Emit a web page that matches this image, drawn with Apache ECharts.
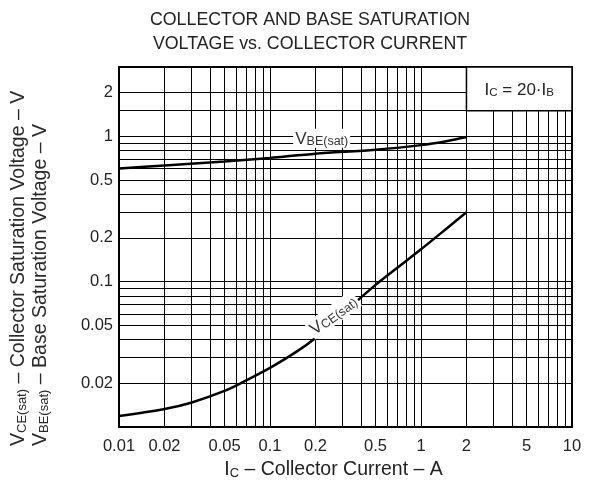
<!DOCTYPE html>
<html>
<head>
<meta charset="utf-8">
<script src="https://cdn.jsdelivr.net/npm/echarts@6/dist/echarts.min.js"></script>
<style>
html,body{margin:0;padding:0;background:#fff;}
#c{width:605px;height:489px;}
</style>
</head>
<body>
<div id="c"></div>
<script>
// ---- data ----
const icBE = [0.01, 0.02, 0.05, 0.1, 0.2, 0.5, 1, 1.5, 2];
const vbeSat = [0.60, 0.63, 0.67, 0.71, 0.76, 0.81, 0.87, 0.93, 0.99];
const icCE = [0.01, 0.02, 0.03, 0.05, 0.07, 0.1, 0.15, 0.2, 0.3, 0.5, 0.7, 1, 1.5, 2];
const vceSat = [0.0119, 0.0133, 0.0147, 0.0177, 0.021, 0.0255, 0.033, 0.041, 0.0596, 0.095, 0.125, 0.167, 0.235, 0.30];
const xTickLabels = [0.01, 0.02, 0.05, 0.1, 0.2, 0.5, 1, 2, 5, 10];
const yTickLabels = [0.02, 0.05, 0.1, 0.2, 0.5, 1, 2];
const xGrid = [0.01,0.02,0.03,0.04,0.05,0.06,0.07,0.08,0.09,0.1,0.2,0.3,0.4,0.5,0.6,0.7,0.8,0.9,1,2,3,4,5,6,7,8,9,10];
const yGrid = [0.02,0.03,0.04,0.05,0.06,0.07,0.08,0.09,0.1,0.2,0.3,0.4,0.5,0.6,0.7,0.8,0.9,1,1.5,2];

const FONT = 'Liberation Sans';
const TXT = '#222';
const fmt = v => String(parseFloat((+v).toPrecision(6)));

const chart = echarts.init(document.getElementById('c'), null, {renderer: 'canvas'});
chart.setOption({
  animation: false,
  backgroundColor: '#fff',
  textStyle: {fontFamily: FONT},
  title: {
    text: 'COLLECTOR AND BASE SATURATION\nVOLTAGE vs. COLLECTOR CURRENT',
    left: 305, top: 3, textAlign: 'center',
    textStyle: {fontFamily: FONT, fontSize: 17.8, fontWeight: 'normal', color: TXT, lineHeight: 24}
  },
  grid: {left: 119, right: 33, top: 67, bottom: 62, show: true, borderColor: '#000', borderWidth: 2, backgroundColor: 'transparent'},
  xAxis: {
    type: 'log', logBase: 10, min: 0.01, max: 10,
    axisLine: {show: false},
    axisTick: {show: false, customValues: xGrid},
    splitLine: {show: true, lineStyle: {color: '#000', width: 1}},
    axisLabel: {customValues: xTickLabels, formatter: fmt, fontSize: 16.5, color: TXT, margin: 11, fontFamily: FONT},
    name: '{b|I}{s|C}{b| – Collector Current – A}',
    nameLocation: 'middle', nameGap: 31,
    nameTextStyle: {padding: [0, 24, 0, 0], rich: {
      b: {fontSize: 19.5, color: TXT, fontFamily: FONT, verticalAlign: 'bottom', lineHeight: 22},
      s: {fontSize: 13, color: TXT, fontFamily: FONT, verticalAlign: 'bottom', lineHeight: 17}
    }}
  },
  yAxis: {
    type: 'log', logBase: 10, min: 0.01, max: 3,
    axisLine: {show: false},
    axisTick: {show: false, customValues: yGrid},
    splitLine: {show: true, lineStyle: {color: '#000', width: 1}},
    axisLabel: {customValues: yTickLabels, formatter: fmt, fontSize: 16.5, color: TXT, margin: 6, fontFamily: FONT}
  },
  graphic: [
    {type: 'text', x: 18, y: 446, rotation: Math.PI / 2,
     style: {text: '{b|V}{s|CE(sat)}{b| – Collector Saturation Voltage – V}', align: 'left', verticalAlign: 'middle',
       rich: {b: {fontSize: 19.5, fill: '#2a2a2a', fontFamily: FONT, verticalAlign: 'bottom', lineHeight: 22},
              s: {fontSize: 13, fill: '#2a2a2a', fontFamily: FONT, verticalAlign: 'bottom', lineHeight: 16}}}},
    {type: 'text', x: 40, y: 446, rotation: Math.PI / 2,
     style: {text: '{b|V}{s|BE(sat)}{b| – Base Saturation Voltage – V}', align: 'left', verticalAlign: 'middle',
       rich: {b: {fontSize: 19.5, fill: '#2a2a2a', fontFamily: FONT, verticalAlign: 'bottom', lineHeight: 22},
              s: {fontSize: 13, fill: '#2a2a2a', fontFamily: FONT, verticalAlign: 'bottom', lineHeight: 16}}}}
  ],
  series: [
    {
      name: 'VBE(sat)', type: 'line', smooth: 0.3, symbol: 'none',
      data: icBE.map((x, i) => [x, vbeSat[i]]),
      lineStyle: {color: '#000', width: 2.5},
      markArea: {
        silent: true,
        itemStyle: {color: '#fff', borderColor: '#000', borderWidth: 1.5, opacity: 1},
        label: {show: true, position: 'inside',
          formatter: '{b|I}{s|C}{b| = 20·I}{s|B}',
          rich: {b: {fontSize: 17, color: TXT, fontFamily: FONT, verticalAlign: 'bottom', lineHeight: 19},
                 s: {fontSize: 11.5, color: TXT, fontFamily: FONT, verticalAlign: 'bottom', lineHeight: 15}}},
        data: [[{coord: [2, 1.5]}, {coord: [10, 3]}]]
      },
      markPoint: {
        silent: true, symbol: 'rect', symbolSize: 1, itemStyle: {color: 'transparent'},
        label: {show: true, position: 'inside', formatter: '{b|V}{s|BE(sat)}',
          backgroundColor: '#fff', padding: [0, 2, 0, 2],
          rich: {b: {fontSize: 17, color: '#333', fontFamily: FONT, verticalAlign: 'bottom', lineHeight: 19},
                 s: {fontSize: 12.5, color: '#333', fontFamily: FONT, verticalAlign: 'bottom', lineHeight: 16}}},
        data: [{coord: [0.22, 0.97]}]
      }
    },
    {
      name: 'VCE(sat)', type: 'line', smooth: 0.3, symbol: 'none',
      data: icCE.map((x, i) => [x, vceSat[i]]),
      lineStyle: {color: '#000', width: 2.5},
      markPoint: {
        silent: true, symbol: 'rect', symbolSize: 1, itemStyle: {color: 'transparent'},
        label: {show: true, position: 'inside', rotate: 36, formatter: '{b|V}{s|CE(sat)}',
          backgroundColor: '#fff', padding: [0, 2, 0, 2],
          rich: {b: {fontSize: 17, color: '#333', fontFamily: FONT, verticalAlign: 'bottom', lineHeight: 19},
                 s: {fontSize: 12.5, color: '#333', fontFamily: FONT, verticalAlign: 'bottom', lineHeight: 16}}},
        data: [{coord: [0.262, 0.059]}]
      }
    }
  ]
});
</script>
</body>
</html>
